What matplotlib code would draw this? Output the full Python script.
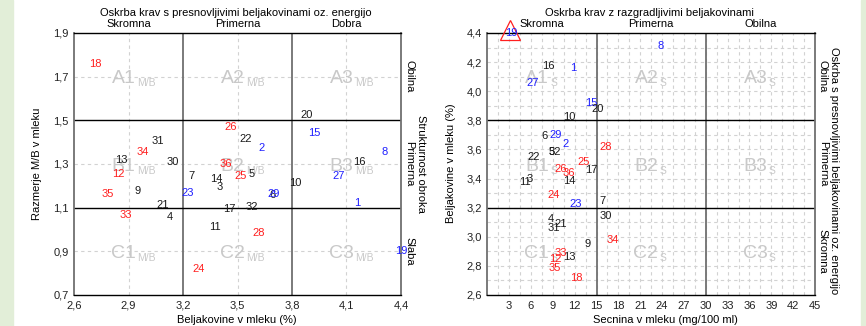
import matplotlib
matplotlib.use("Agg")
import matplotlib.pyplot as plt
from matplotlib.patches import Rectangle
import numpy as np

plt.rcParams["font.family"] = ["Liberation Sans", "DejaVu Sans"]

# podatki po kravah (ID 1..36)
ids = list(range(1, 37))
beljakovine = [4.16, 3.635, 3.40, 3.125, 3.58, 3.695, 3.245, 4.31, 2.95, 3.82,
               3.375, 2.845, 2.86, 3.385, 3.92, 4.17, 3.457, 2.716, 4.40, 3.878,
               3.086, 3.547, 3.225, 3.284, 3.516, 3.465, 4.055, 3.617, 3.70, 3.146,
               3.063, 3.58, 2.887, 2.977, 2.786, 3.437]
razmerje_mb = [1.123, 1.374, 1.195, 1.055, 1.254, 1.16, 1.247, 1.355, 1.177, 1.213,
               1.011, 1.253, 1.32, 1.23, 1.444, 1.31, 1.094, 1.759, 0.903, 1.525,
               1.114, 1.414, 1.167, 0.819, 1.245, 1.47, 1.244, 0.983, 1.161, 1.31,
               1.405, 1.105, 1.065, 1.355, 1.163, 1.299]
secnina = [11.81, 10.71, 5.86, 8.75, 8.79, 7.92, 15.85, 23.85, 13.79, 11.26,
           5.18, 9.30, 11.26, 11.21, 14.24, 8.34, 14.24, 12.28, 3.35, 15.16,
           10.12, 6.32, 12.14, 9.16, 13.18, 10.12, 6.18, 16.2, 9.34, 16.3,
           9.16, 9.23, 10.08, 17.22, 9.30, 11.22]
rdeci = [12, 18, 24, 25, 26, 28, 33, 34, 35, 36]
modri = [1, 2, 8, 15, 19, 23, 27, 29]

RED, BLUE, BLACK = "#ff1f1f", "#1f1fff", "#1a1a1a"
GREEN_BG = "#e2eed8"
WM = "#c9c9c9"
fs = 8


def barva(i):
    if i in rdeci:
        return RED
    if i in modri:
        return BLUE
    return BLACK


fig = plt.figure(figsize=(8.66, 3.26), dpi=100)
fig.patch.set_facecolor("white")
fig.add_artist(Rectangle((0, 0), 13 / 866, 1, transform=fig.transFigure, color=GREEN_BG, zorder=0))
fig.add_artist(Rectangle((861 / 866, 0), 5 / 866, 1, transform=fig.transFigure, color=GREEN_BG, zorder=0))

axL = fig.add_axes([74 / 866, 1 - 295 / 326, 327 / 866, 262 / 326])
axR = fig.add_axes([487.3 / 866, 1 - 295 / 326, 327.7 / 866, 262 / 326])


def okvir(ax, xgrid, ygrid, xdiv, ydiv):
    for x in xgrid:
        ax.axvline(x, color="#d2d2d2", lw=0.8, ls=(0, (3, 3)), zorder=1)
    for y in ygrid:
        ax.axhline(y, color="#d2d2d2", lw=0.8, ls=(0, (3, 3)), zorder=1)
    for x in xdiv:
        ax.axvline(x, color="#707070", lw=1.3, zorder=2)
    for y in ydiv:
        ax.axhline(y, color="black", lw=1.0, zorder=2)
    for s in ("left", "right"):
        ax.spines[s].set_color("#707070")
        ax.spines[s].set_linewidth(1.3)
    for s in ("top", "bottom"):
        ax.spines[s].set_color("black")
        ax.spines[s].set_linewidth(1.0)
    ax.tick_params(length=0, labelsize=fs, colors="#222222", pad=4)


def vodni(ax, x, y, glavni, indeks):
    ax.annotate(glavni, (x, y), xytext=(5.2, -4.8), textcoords="offset points",
                ha="right", va="baseline", fontsize=14, color=WM, zorder=1.5)
    ax.annotate(indeks, (x, y), xytext=(6.0, -7.0), textcoords="offset points",
                ha="left", va="baseline", fontsize=7.5, color=WM, zorder=1.5)


# ---- levi graf: razmerje M/B vs beljakovine
okvir(axL, [2.9, 3.5, 4.1], [1.7, 1.3, 0.9], [3.2, 3.8], [1.5, 1.1])
axL.set_xlim(2.6, 4.4)
axL.set_ylim(0.7, 1.9)
xt = np.round(np.arange(2.6, 4.41, 0.3), 1)
yt = np.round(np.arange(0.7, 1.91, 0.2), 1)
axL.set_xticks(xt)
axL.set_xticklabels([f"{v:.1f}".replace(".", ",") for v in xt])
axL.set_yticks(yt)
axL.set_yticklabels([f"{v:.1f}".replace(".", ",") for v in yt])
for r, yy in zip("ABC", [1.7, 1.3, 0.9]):
    for c, xx in zip("123", [2.9, 3.5, 4.1]):
        vodni(axL, xx, yy, r + c, "M/B")
for i, x, y in zip(ids, beljakovine, razmerje_mb):
    axL.text(x, y, str(i), color=barva(i), fontsize=fs, ha="center", va="center",
             zorder=3, clip_on=False)

# ---- desni graf: beljakovine vs secnina
okvir(axR, np.arange(1.5, 45, 1.5), np.round(np.arange(2.7, 4.4, 0.1), 1), [15, 30], [3.8, 3.2])
axR.set_xlim(0, 45)
axR.set_ylim(2.6, 4.4)
axR.set_xticks(range(3, 46, 3))
yt2 = np.round(np.arange(2.6, 4.41, 0.2), 1)
axR.set_yticks(yt2)
axR.set_yticklabels([f"{v:.1f}".replace(".", ",") for v in yt2])
for r, yy in zip("ABC", [4.1, 3.5, 2.9]):
    for c, xx in zip("123", [7.5, 22.5, 37.5]):
        vodni(axR, xx, yy, r + c, "S")
axR.plot([3.1], [4.42], marker="^", ms=15, mfc="none", mec=RED, mew=0.9,
         clip_on=False, zorder=3)
for i, x, y in zip(ids, secnina, beljakovine):
    axR.text(x, y, str(i), color=barva(i), fontsize=fs, ha="center", va="center",
             zorder=4, clip_on=False)

# ---- napisi
fig.text(236 / 866, 1 - 13.5 / 326, "Oskrba krav s presnovljivimi beljakovinami oz. energijo",
         ha="center", va="center", fontsize=fs)
fig.text(649 / 866, 1 - 13.5 / 326, "Oskrba krav z razgradljivimi beljakovinami",
         ha="center", va="center", fontsize=fs)
for t, xx in zip(["Skromna", "Primerna", "Dobra"], [2.9, 3.5, 4.1]):
    axL.annotate(t, (xx, 1.9), xytext=(0, 3), textcoords="offset points",
                 ha="center", va="bottom", fontsize=fs)
for t, xx in zip(["Skromna", "Primerna", "Obilna"], [7.5, 22.5, 37.5]):
    axR.annotate(t, (xx, 4.4), xytext=(0, 3), textcoords="offset points",
                 ha="center", va="bottom", fontsize=fs)
for t, yy in zip(["Obilna", "Primerna", "Slaba"], [1.7, 1.3, 0.9]):
    axL.annotate(t, (4.4, yy), xytext=(5.8, 0), textcoords="offset points",
                 ha="center", va="center", rotation=-90, fontsize=fs)
for t, yy in zip(["Obilna", "Primerna", "Skromna"], [4.1, 3.5, 2.9]):
    axR.annotate(t, (45, yy), xytext=(5.5, 0), textcoords="offset points",
                 ha="center", va="center", rotation=-90, fontsize=fs)
fig.text(421 / 866, 1 - 164 / 326, "Strukturnost obroka", rotation=-90,
         ha="center", va="center", fontsize=fs)
fig.text(834 / 866, 1 - 171 / 326, "Oskrba s presnovljivimi beljakovinami oz. energijo",
         rotation=-90, ha="center", va="center", fontsize=fs)

fig.text(37 / 866, 1 - 164 / 326, "Razmerje M/B v mleku", rotation=90,
         ha="center", va="center", fontsize=fs)
fig.text(237 / 866, 1 - 320 / 326, "Beljakovine v mleku (%)", ha="center", va="center", fontsize=fs)
fig.text(451 / 866, 1 - 163 / 326, "Beljakovine v mleku (%)", rotation=90,
         ha="center", va="center", fontsize=fs)
fig.text(665.5 / 866, 1 - 320 / 326, "Secnina v mleku (mg/100 ml)", ha="center", va="center", fontsize=fs)

fig.savefig("out.png", dpi=100)
